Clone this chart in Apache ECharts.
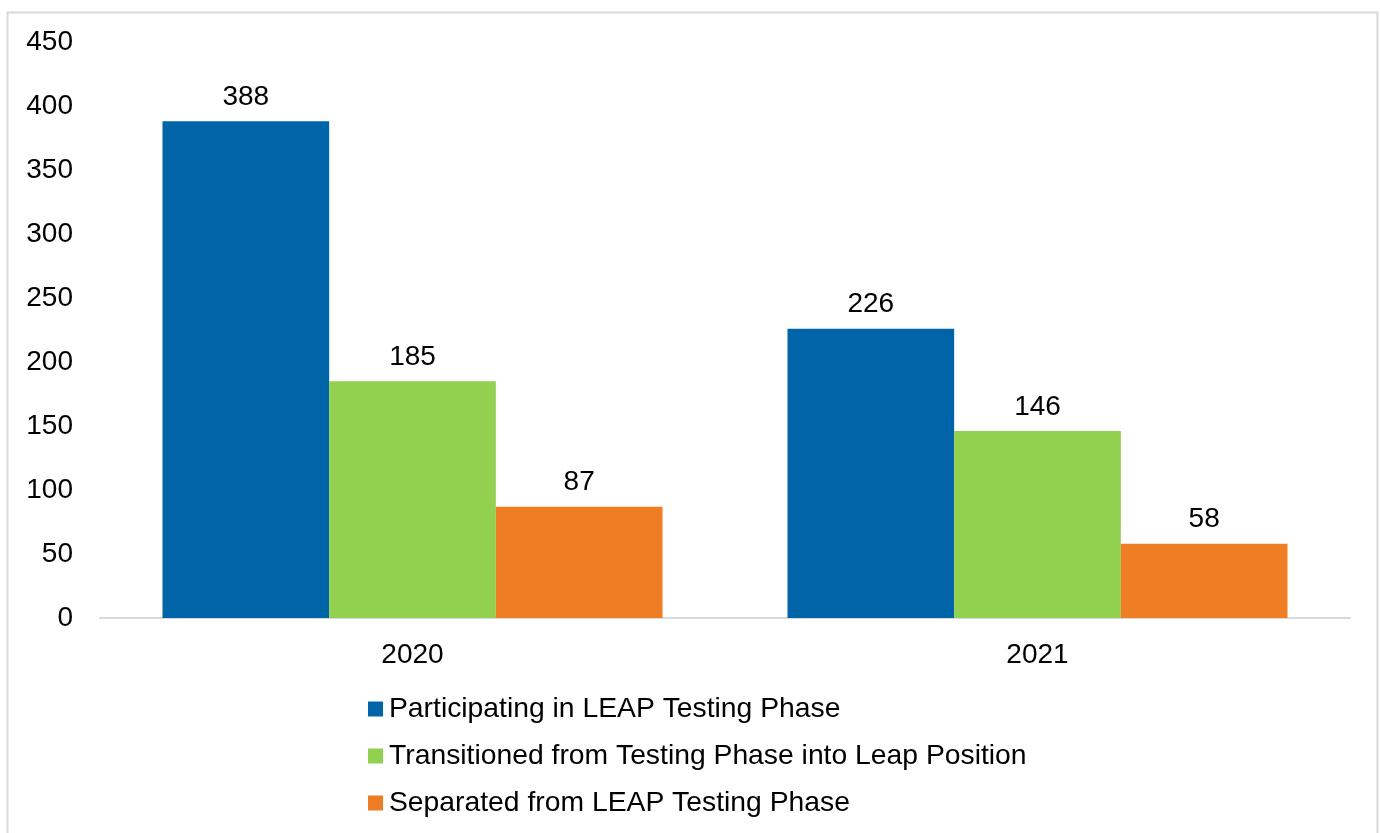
<!DOCTYPE html>
<html><head><meta charset="utf-8">
<script src="https://cdn.jsdelivr.net/npm/echarts@6/dist/echarts.min.js"></script>
<style>html,body{margin:0;padding:0;background:#fff}#c{width:1380px;height:833px}</style>
</head><body><div id="c"></div>
<script>
const categories = ['2020', '2021'];
const seriesNames = ['Participating in LEAP Testing Phase', 'Transitioned from Testing Phase into Leap Position', 'Separated from LEAP Testing Phase'];
const participating = [388, 226];
const transitioned = [185, 146];
const separated = [87, 58];
const colors = ['#0064A8', '#92D050', '#EE7D24'];
const yMin = 0, yMax = 450, yInterval = 50;

const chart = echarts.init(document.getElementById('c'));
const font = 'Liberation Sans, Arial, sans-serif';
const fs = 28;
const mk = (name, data, color) => ({
  name, type: 'bar', data, barGap: '0%', barCategoryGap: '20%',
  itemStyle: { color },
  label: { show: true, position: 'top', distance: 10, color: '#000', fontSize: fs, fontFamily: font }
});
chart.setOption({
  animation: false,
  textStyle: { fontFamily: font },
  graphic: [{ type: 'rect', shape: { x: 7.5, y: 12.5, width: 1370, height: 830 }, style: { fill: 'none', stroke: '#d9d9d9', lineWidth: 2 }, silent: true }],
  grid: { left: 100, right: 30, top: 42, bottom: 215, containLabel: false },
  legend: {
    orient: 'vertical', left: 363, top: 690, itemWidth: 15, itemHeight: 15, itemGap: 19,
    icon: 'rect', textStyle: { fontSize: 28.3, color: '#000', fontFamily: font, padding: [0, 0, 0, 1] },
    data: seriesNames
  },
  xAxis: {
    type: 'category', data: categories,
    axisLine: { lineStyle: { color: '#d9d9d9', width: 2 } },
    axisTick: { show: false },
    axisLabel: { fontSize: fs, color: '#000', margin: 23, fontFamily: font }
  },
  yAxis: {
    type: 'value', min: yMin, max: yMax, interval: yInterval,
    splitLine: { show: false }, axisLine: { show: false }, axisTick: { show: false },
    axisLabel: { fontSize: fs, color: '#000', margin: 27, fontFamily: font }
  },
  series: [
    mk(seriesNames[0], participating, colors[0]),
    mk(seriesNames[1], transitioned, colors[1]),
    mk(seriesNames[2], separated, colors[2])
  ]
});
</script></body></html>
